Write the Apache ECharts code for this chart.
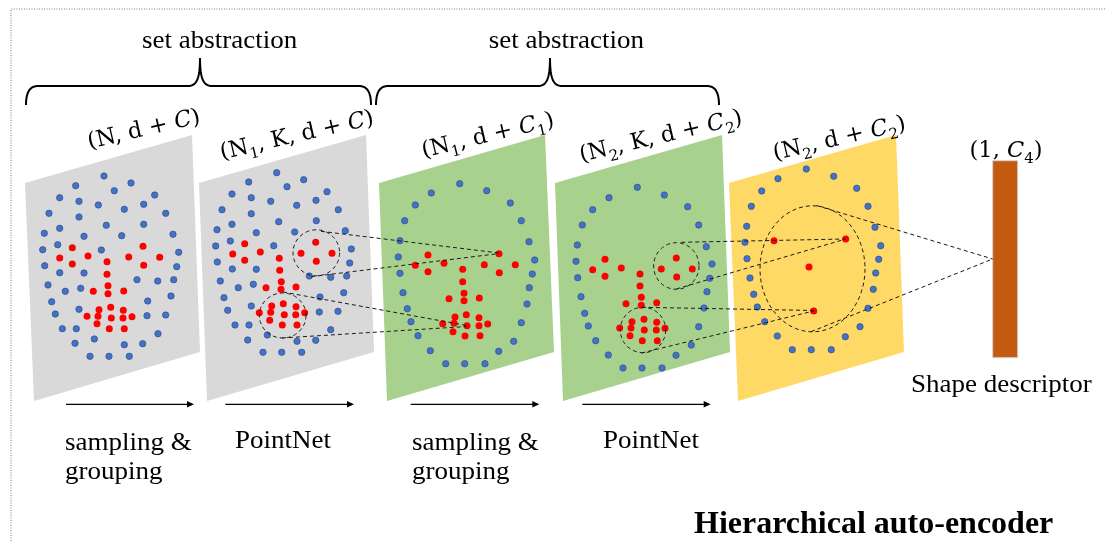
<!DOCTYPE html>
<html><head><meta charset="utf-8">
<script src="https://cdn.jsdelivr.net/npm/echarts@6/dist/echarts.min.js"></script>
<style>html,body{margin:0;padding:0;background:#fff}#c{width:1105px;height:541px}</style>
</head><body><div id="c"></div>
<script>
// ---- data (pixel space of the figure) ----
const panels = [
  [25,183, 192,135, 200,352, 34,401],
  [199,183, 366,135, 374,352, 207,401],
  [379,183, 545,135, 554,352, 387,401],
  [555,183, 722,135, 730,352, 563,401],
  [729,183, 896,135, 904,352, 738,401]
];
const panelColors = ['#d9d9d9','#d9d9d9','#a9d18e','#a9d18e','#ffd966'];

const blue1 = [[104,176],[75.7,185.7],[131,183],[114.3,190.7],[59.7,197.7],[79,201.3],[154.7,195],[98.3,205],[143.7,204.3],[124.3,209.3],[49,213.3],[79,217],[165.7,213.3],[106.3,225.3],[143.7,224.3],[59.7,228.3],[44.3,233.3],[84,236.3],[121.7,235.7],[173,234.3],[57.7,244.7],[101.3,250],[42.7,249.7],[178.7,252.3],[44.7,265.7],[59.7,272.7],[84,273],[176.7,266.7],[137,279.7],[157.7,281],[173.7,279.7],[48,285],[65.3,291.3],[80.7,288.3],[171,296],[51.7,301.7],[147.7,301],[79,309.3],[55.3,314],[147,315.7],[165.7,315],[62.3,328.7],[76.3,328.7],[158,333.7],[75,343.3],[94.3,339],[124.3,344.7],[142.7,343.7],[90,356.3],[109,356.3],[129.3,356.3]];
const red1 = [[72.3,247.7],[59.7,258],[72.3,264],[88,256],[107,261.7],[107,274.3],[108,285.7],[108,293.7],[93.3,291.3],[123.7,291],[128.7,257],[143,246.3],[159.7,257.3],[143.7,265.3],[99,309.7],[110.7,307.3],[123.3,310.3],[87,316.3],[98,316.3],[111.3,318],[123,318],[132,316.7],[97,323.7],[109.3,328.7],[124.3,328.7]];

const blue2 = [[276.7,172.7],[248.7,182],[303.7,179.7],[287,186.7],[232,194],[251.3,197.7],[327,191.7],[270.7,201.3],[316,200.3],[296.7,205.3],[222,209.7],[251.3,213.7],[338.3,209.7],[278.7,221.7],[316.3,220.7],[232,224.3],[217,229.7],[256.3,232.7],[294.7,232],[345.3,230.7],[230.3,241],[273.7,245.7],[215.7,246],[351.3,249],[217.3,262],[232.3,269],[256.3,269.3],[349.7,263],[309.3,276],[330.7,277.3],[346.7,276],[220.3,281],[238.3,287.7],[253.3,284.3],[343.7,292.7],[224,297.7],[320,297],[251.3,306],[227.7,310.3],[319.3,312],[338,311.3],[235,325],[249,325],[330.7,329.7],[247.7,340],[267.3,335],[297,341.3],[315.7,340.3],[263,352.3],[281.7,352.3],[301.7,352.3]];
const red2 = [[244.7,243.7],[232.7,254],[244.7,260.3],[260.3,252],[279.3,258.3],[279.7,270.3],[281.3,281.7],[281,289.3],[266,287.7],[296,287],[301,253.3],[315.7,242.3],[332,253.3],[316.3,261.3],[271.7,306],[283.3,303.7],[296,306.7],[259.3,312.7],[270.7,312.3],[284.3,314.7],[295.7,314.7],[304.7,312.7],[269.7,320.3],[282.3,325],[297,325]];

const blue3 = [[459.7,183.7],[431.3,193],[486.7,190.7],[415.3,205],[510.3,203],[404.7,220.7],[521.3,220.7],[400,240.7],[529,241.7],[398.3,257],[534.7,260],[400,273.3],[532.3,274],[403,292.7],[529.3,287.7],[407.3,308.7],[527,304],[411,321.7],[521.3,322.7],[418,335.7],[513.7,341.3],[430.3,350.7],[498.7,351.3],[445.7,363.7],[464.7,363.7],[485,363.7]];
const red3 = [[428,255],[415.3,265.3],[428,271.7],[444,263.3],[462.7,269.3],[462.7,281.7],[464,293.3],[464,300.7],[449,298.7],[479.3,298],[484.3,264.7],[499,253.7],[515.3,264.7],[499.3,272.7],[455,317],[466.3,314.7],[479,317.7],[442.7,323.7],[454,323.3],[467,325.7],[479,325.7],[487.7,324],[453,331.7],[465,336],[480,335.7]];

const blue4 = [[637.3,187.3],[609,197.7],[664.3,195],[592.7,209.7],[687.7,206.7],[582.3,225],[698.7,225],[577.3,245],[706.3,246.7],[576,261.3],[712,264],[577.7,277.7],[709.7,278.3],[581,296.7],[707,291.7],[584.7,313.3],[704,308],[588.3,326],[698.7,326.7],[595.7,340.7],[691.3,345],[608.3,355],[676,355.3],[623,368],[642,368],[662,368]];
const red4 = [[605,259.3],[592.7,269.7],[605,276.3],[621.3,268],[640,274],[640,286],[641.3,297.3],[641.3,305.3],[626,303.7],[656.7,302.7],[661.3,269],[676.3,258],[692.3,269],[676.7,277],[632,321.7],[644,319.3],[656.7,322.3],[619.7,328],[631,328],[644.3,330],[656.3,330],[665,328.3],[630,335.7],[642.3,340.7],[657.3,340.7]];

const blue5 = [[806.3,169],[778,178.7],[833.7,176.3],[761.7,191],[856.7,188.3],[751.3,206.3],[868,206.3],[746.7,226.3],[875,227.3],[745,242.3],[880.7,245.7],[747,258.7],[878.7,259.3],[750,278],[875.7,273],[753.7,294.3],[873.3,289.3],[757.3,307],[868,308.3],[764.7,321.7],[860,326.7],[777.3,336],[845.3,336.7],[792.3,349.7],[811.3,349.7],[831.3,349.7]];
const red5 = [[774,240.7],[845.7,239],[809,267],[813.7,311]];

// dashed grouping circles/ellipses: [cx, cy, rx, ry]
const groups = [[316.3,252.8,23.3,23],[282.7,315.5,23.3,22.5],[676.3,266,22.7,23.3],[643,330,22.7,22.7],[812.5,268.8,52.5,63]];
// dashed connectors: [x1,y1,x2,y2]
const links = [[321,231.3,499.3,253],[311,276.7,499.3,253.5],[283,292,466.7,325.5],[282,338,466.7,326.5],
               [681.3,242.3,845.7,239],[676.3,289,845.7,239],[642,307.3,813.7,310.5],[641.5,353,813.7,311],
               [816.5,205.5,992.7,259],[811,331.7,992.7,259]];
// shape descriptor bar: [x0,y0,x1,y1]
const descriptor = [[992.7,160.7,1017.7,357.7]];
// braces: [x0, xc, x1, yTip, yMid, yEnd]
const braces = [[26,200,371,58,86,105],[376,550,719,58,86,105]];
// arrows: [x0, x1, y]
const arrows = [[66,194,404.3],[225.3,354,404.3],[410.7,539.3,404.3],[582.3,710.7,404.3]];
// frame: [x,y] polyline
const frame = [[11,541,11,9,1105,9]];

// texts
const mathLabels = ['(N, d + {i|C})','(N{s|1}, K, d + {i|C})','(N{s|1}, d + {i|C}{s|1})','(N{s|2}, K, d + {i|C}{s|2})','(N{s|2}, d + {i|C}{s|2})','(1, {i|C}{s|4})'];
const mathPos = [[144,130,13],[297,136,13],[488,136,13.5],[661,137,13.3],[839.5,139,13],[1006,151.5,0]];
const titleLabels = ['set abstraction','set abstraction'];
const titlePos = [[219.7,41.5],[566.3,41.5]];
const stepLabels = ['sampling &','grouping','PointNet','sampling &','grouping','PointNet','Shape descriptor'];
const stepPos = [[65,443],[65,472],[235,441.5],[412,443],[412,472],[603,441.5],[911,385.5]];
const captionLabels = ['Hierarchical auto-encoder'];
const captionPos = [[694,525]];

// ---- chart ----
const chart = echarts.init(document.getElementById('c'), null, {renderer:'canvas'});
const dash = [4,3];
const XS = 1.08;
function textSeries(name, labels, pos, styleFn) {
  return {
    type:'custom', name, data: pos, clip:false, silent:true, z: 20,
    renderItem: (params, api) => {
      const i = params.dataIndex;
      const p = api.coord([api.value(0), api.value(1)]);
      const s = styleFn(i);
      return {type:'text', x:p[0], y:p[1], rotation:(pos[i][2]||0)*Math.PI/180, scaleX: s.scaleX||1,
        style:Object.assign({text:labels[i], fill:'#000'}, s.style)};
    }
  };
}
const option = {
  animation:false,
  backgroundColor:'#fff',
  grid:{left:0,right:0,top:0,bottom:0},
  xAxis:{type:'value',min:0,max:1105,show:false},
  yAxis:{type:'value',min:0,max:541,inverse:true,show:false},
  series:[
    {type:'custom', name:'frame', data:frame, clip:false, silent:true, z:1,
     renderItem:(params, api)=>{
       const pts=[]; for(let k=0;k<6;k+=2) pts.push(api.coord([api.value(k),api.value(k+1)]));
       return {type:'polyline', shape:{points:pts}, style:{stroke:'#7f7f7f', lineWidth:1, lineDash:[1,1.5], fill:null}};
     }},
    {type:'custom', name:'panels', data:panels, clip:false, silent:true, z:2,
     renderItem:(params, api)=>{
       const pts=[]; for(let k=0;k<8;k+=2) pts.push(api.coord([api.value(k),api.value(k+1)]));
       return {type:'polygon', shape:{points:pts}, style:{fill:panelColors[params.dataIndex], stroke:null}};
     }},
    {type:'custom', name:'descriptor', data:descriptor, clip:false, silent:true, z:2,
     renderItem:(params, api)=>{
       const a=api.coord([api.value(0),api.value(1)]), b=api.coord([api.value(2),api.value(3)]);
       return {type:'rect', shape:{x:a[0],y:a[1],width:b[0]-a[0],height:b[1]-a[1]}, style:{fill:'#c55a11', stroke:'#d6d3d0', lineWidth:1}};
     }},
    {type:'scatter', name:'points', data:[].concat(blue1,blue2,blue3,blue4,blue5), symbolSize:6.4, silent:true, z:3,
     itemStyle:{color:'#4472c4', borderColor:'#2f528f', borderWidth:0.7, opacity:1}},
    {type:'scatter', name:'centroids', data:[].concat(red1,red2,red3,red4,red5), symbolSize:7, silent:true, z:4,
     itemStyle:{color:'#ff0000', opacity:1}},
    {type:'custom', name:'groups', data:groups, clip:false, silent:true, z:5,
     renderItem:(params, api)=>{
       const cx=api.value(0), cy=api.value(1), rx=api.value(2), ry=api.value(3);
       const pts=[]; for(let t=0;t<=96;t++){const a=t/96*2*Math.PI; pts.push(api.coord([cx+rx*Math.cos(a), cy+ry*Math.sin(a)]));}
       return {type:'polyline', shape:{points:pts}, style:{stroke:'#1a1a1a', lineWidth:1, lineDash:dash, fill:null}};
     }},
    {type:'custom', name:'links', data:links, clip:false, silent:true, z:6,
     renderItem:(params, api)=>{
       const a=api.coord([api.value(0),api.value(1)]), b=api.coord([api.value(2),api.value(3)]);
       return {type:'line', shape:{x1:a[0],y1:a[1],x2:b[0],y2:b[1]}, style:{stroke:'#1a1a1a', lineWidth:1, lineDash:dash}};
     }},
    {type:'custom', name:'braces', data:braces, clip:false, silent:true, z:6,
     renderItem:(params, api)=>{
       const x0=api.value(0), xc=api.value(1), x1=api.value(2), yT=api.value(3), yM=api.value(4), yE=api.value(5);
       const pts=[];
       const bez=(p0,p1,p2,p3)=>{for(let t=0;t<=20;t++){const u=t/20,v=1-u;
         pts.push(api.coord([v*v*v*p0[0]+3*v*v*u*p1[0]+3*v*u*u*p2[0]+u*u*u*p3[0], v*v*v*p0[1]+3*v*v*u*p1[1]+3*v*u*u*p2[1]+u*u*u*p3[1]]));}};
       const r=12;
       bez([x0,yE],[x0,yM+6],[x0+4,yM],[x0+r,yM]);
       bez([xc-r,yM],[xc-4,yM],[xc,yM-6],[xc,yT]);
       bez([xc,yT],[xc,yM-6],[xc+4,yM],[xc+r,yM]);
       bez([x1-r,yM],[x1-4,yM],[x1,yM+6],[x1,yE]);
       return {type:'polyline', shape:{points:pts}, style:{stroke:'#000', lineWidth:2, fill:null}};
     }},
    {type:'custom', name:'arrows', data:arrows, clip:false, silent:true, z:6,
     renderItem:(params, api)=>{
       const a=api.coord([api.value(0),api.value(2)]), b=api.coord([api.value(1),api.value(2)]);
       return {type:'group', children:[
         {type:'line', shape:{x1:a[0],y1:a[1],x2:b[0]-5,y2:b[1]}, style:{stroke:'#000', lineWidth:1.2}},
         {type:'polygon', shape:{points:[[b[0],b[1]],[b[0]-7,b[1]-3.2],[b[0]-7,b[1]+3.2]]}, style:{fill:'#000'}}
       ]};
     }},
    textSeries('math', mathLabels, mathPos, ()=>({style:{fontFamily:'DejaVu Serif', fontSize:22.5, align:'center', verticalAlign:'middle',
       rich:{i:{fontFamily:'DejaVu Serif', fontSize:22.5, fontStyle:'italic'}, s:{fontFamily:'DejaVu Serif', fontSize:15, verticalAlign:'bottom', lineHeight:15, padding:[0,0,-4,0]}}}})),
    textSeries('titles', titleLabels, titlePos, ()=>({scaleX:XS, style:{fontFamily:'Liberation Serif', fontSize:25, align:'center', verticalAlign:'middle'}})),
    textSeries('steps', stepLabels, stepPos, ()=>({scaleX:XS, style:{fontFamily:'Liberation Serif', fontSize:25, align:'left', verticalAlign:'middle'}})),
    textSeries('caption', captionLabels, captionPos, ()=>({style:{fontFamily:'Liberation Serif', fontSize:32, fontWeight:'bold', align:'left', verticalAlign:'middle'}}))
  ]
};
chart.setOption(option);
</script>
</body></html>
